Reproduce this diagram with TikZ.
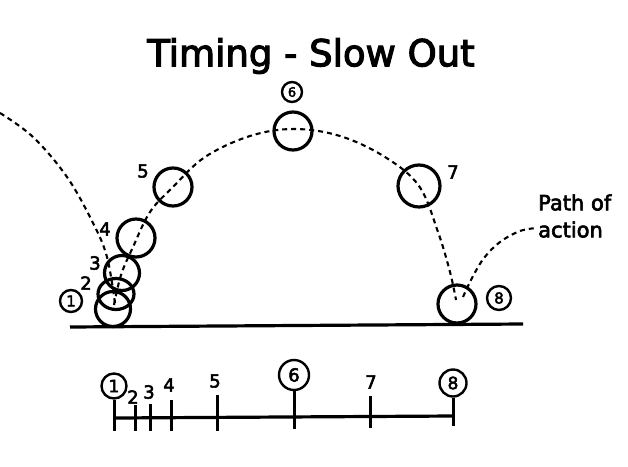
\documentclass[tikz,border=0pt]{standalone}
\usepackage{fontspec}
\setmainfont{DejaVu Sans}[FakeBold=3]
\usetikzlibrary{shapes.geometric}
\begin{document}
\begin{tikzpicture}[x=1pt,y=-1pt,
  ball/.style={draw, circle, line width=3.2pt, minimum size=#1, inner sep=0pt},
  flatball/.style={draw, ellipse, line width=3.2pt, minimum width=36pt, minimum height=31pt, inner sep=0pt},
  circnum/.style={draw, circle, line width=2.4pt, minimum size=#1, inner sep=0pt, font=\fontsize{15}{16}\selectfont},
  num/.style={font=\fontsize{18}{19}\selectfont, inner sep=0pt},
  pathdash/.style={line width=2.1pt, dash pattern=on 5pt off 4pt},
  heavy/.style={line width=3.2pt},
  tick/.style={line width=3pt}]
\useasboundingbox (0,0) rectangle (628,466);
\fill[white] (0,0) rectangle (628,466);

% title
\node[font=\fontsize{37}{44}\selectfont, inner sep=0pt] (title) at (311,56) {Timing - Slow Out};

% ground
\coordinate (g1) at (70,327);
\coordinate (g2) at (523,324);
\draw[heavy] (g1) -- (g2);

% balls
\node[ball=35pt] (b1) at (113,309) {};
\node[flatball] (b2) at (116,294) {};
\node[ball=35pt] (b3) at (122,273) {};
\node[ball=38pt] (b4) at (136,238) {};
\node[ball=38pt] (b5) at (173,187) {};
\node[ball=38pt] (b6) at (293,131) {};
\node[ball=42pt] (b7) at (419,186) {};
\node[ball=38pt] (b8) at (457,304) {};

% ball labels
\node[circnum=22pt] (l1) at (71,301) {1};
\node[num] (l2) at (86,283) {2};
\node[num] (l3) at (95,263) {3};
\node[num] (l4) at (105,229) {4};
\node[num] (l5) at (143,171) {5};
\node[circnum=20pt, font=\fontsize{13}{14}\selectfont] (l6) at (292,92) {6};
\node[num] (l7) at (453,172) {7};
\node[circnum=24pt] (l8) at (499,298) {8};

% path of action label
\node[font=\fontsize{21}{27}\selectfont, align=left, inner sep=0pt, anchor=west] (poa) at (538,216) {Path of\\action};

% dashed path of action
\draw[pathdash] plot[smooth, tension=0.6] coordinates {(0,113) (33,137) (67,177) (93,223) (107,257) (115,303)};
\draw[pathdash] plot[smooth, tension=0.6] coordinates {(114,305) (121,275) (133,247) (150,212) (173,187) (205,157) (250,136) (294,129) (340,136) (385,157) (419,186) (438,232) (450,272) (456,300)};
\draw[pathdash] plot[smooth, tension=0.6] coordinates {(463,297) (472,278) (484,258) (500,242) (520,231) (537,228)};

% timeline
\coordinate (t0) at (115,418);
\coordinate (t9) at (453,416);
\draw[heavy] (t0) -- (t9);

\node[circnum=25pt, font=\fontsize{17}{18}\selectfont] (c1) at (114,386) {1};
\draw[tick] (c1.south) -- (114,431);
\draw[tick] (135,405) -- (135,431);
\node[num] (n2) at (133,397) {2};
\draw[tick] (150,404) -- (150,431);
\node[num] (n3) at (149,392) {3};
\draw[tick] (171,400) -- (171,431);
\node[num] (n4) at (169,385) {4};
\draw[tick] (217,395) -- (217,431);
\node[num] (n5) at (215,381) {5};
\node[circnum=30pt, font=\fontsize{18}{19}\selectfont] (c6) at (294,375) {6};
\draw[tick] (c6.south) -- (294,429);
\draw[tick] (370,396) -- (370,428);
\node[num] (n7) at (371,382) {7};
\node[circnum=27pt, font=\fontsize{17}{18}\selectfont] (c8) at (453,383) {8};
\draw[tick] (c8.south) -- (453,426);
\end{tikzpicture}
\end{document}
